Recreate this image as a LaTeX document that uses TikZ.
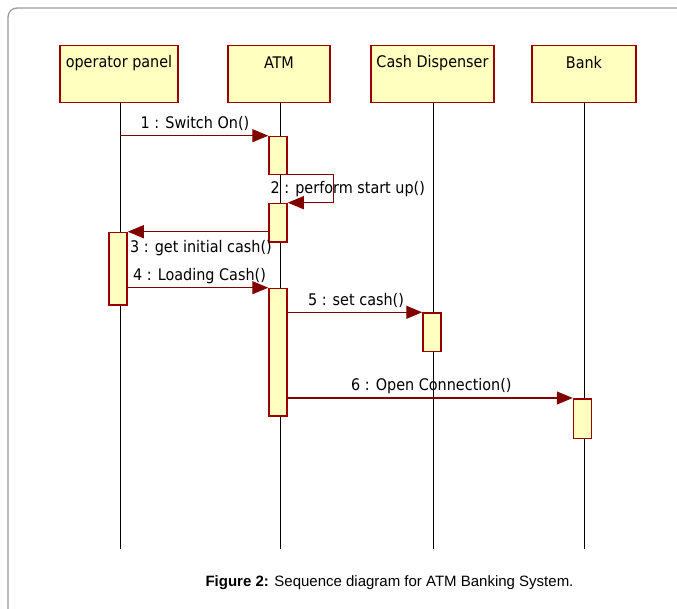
\documentclass[tikz,border=0pt]{standalone}
\usepackage{fontspec}
\setmainfont{Liberation Sans}
\newfontfamily\umlfont{DejaVu Sans Condensed}
\usetikzlibrary{arrows.meta}
\definecolor{umlfill}{HTML}{FFFFC0}
\definecolor{umledge}{HTML}{990000}
\definecolor{msgred}{HTML}{800000}
\definecolor{framegray}{HTML}{9A9A9A}
\tikzset{
  headbox/.style={draw=umledge, fill=umlfill, line width=1.5pt, minimum width=#1, minimum height=57pt, inner sep=0pt},
  actbox/.style={draw=umledge, fill=umlfill, line width=1.5pt, minimum width=18pt, minimum height=#1, inner sep=0pt, anchor=north},
  lifeline/.style={draw=black, line width=0.9pt},
  msg/.style={draw=msgred, line width=1.2pt, -{Triangle[length=16pt,width=13pt]}},
  umltext/.style={font=\umlfont\fontsize{16}{18}\selectfont, text=black, inner sep=0pt},
}
\begin{document}
\begin{tikzpicture}[x=1pt,y=-1pt]
\useasboundingbox (0,0) rectangle (677,609);
% outer frame, running past the right and bottom edges
\draw[framegray, line width=1.3pt, rounded corners=9pt] (690,8) -- (8,8) -- (8,620);

% participants
\node[headbox=118pt] (op)   at (119,74) {};
\node[headbox=102pt] (atm)  at (279,74) {};
\node[headbox=123pt] (cd)   at (432.5,74) {};
\node[headbox=104pt] (bank) at (584,74) {};
\node[umltext] at (119,63) {operator panel};
\node[umltext] at (279,63) {ATM};
\node[umltext] at (432.5,63) {Cash Dispenser};
\node[umltext] at (584,63) {Bank};

% lifelines
\coordinate (opend)   at (120,549);
\coordinate (atmend)  at (280,549);
\coordinate (cdend)   at (433,549);
\coordinate (bankend) at (584,549);
\draw[lifeline] (op.south -| opend) -- (opend);
\draw[lifeline] (atm.south -| atmend) -- (atmend);
\draw[lifeline] (cd.south -| cdend) -- (cdend);
\draw[lifeline] (bank.south -| bankend) -- (bankend);

% activations
\node[actbox=38pt]    (a1) at (278,135.7) {};
\node[actbox=38.5pt]  (a2) at (278,202.7) {};
\node[actbox=72.5pt]  (o1) at (118,231.7) {};
\node[actbox=127.3pt] (a3) at (278,287.7) {};
\node[actbox=38.7pt]  (c1) at (432,312.3) {};
\node[actbox=39.7pt]  (b1) at (582.5,398) {};

% messages
\draw[msg] (a1.north west -| opend) -- (a1.north west);
\node[umltext] at (195,123) {1 : Switch On()};

\draw[msg] ([yshift=1pt]a1.south east) -- ++(46,0) |- (a2.north east);
\node[umltext, anchor=west] at (270.5,189) {2 : perform start up()};

\draw[msg] ([yshift=-29pt]a2.north west) -- (a2.north west |- o1.north east) -- (o1.north east);
\node[umltext, anchor=west] at (130,248) {3 : get initial cash()};

\draw[msg] (a3.north west -| o1.east) -- (a3.north west);
\node[umltext, anchor=west] at (133,276.5) {4 : Loading Cash()};

\draw[msg] (c1.north west -| a3.east) -- (c1.north west);
\node[umltext] at (356,300) {5 : set cash()};

\draw[msg] (b1.north west -| a3.east) -- (b1.north west);
\node[umltext, anchor=west] at (351,386.5) {6 : Open Connection()};

% caption
\node[font=\fontsize{15}{18}\selectfont, inner sep=0pt] (cap) at (389.5,583)
  {\textbf{Figure 2:} Sequence diagram for ATM Banking System.};
\end{tikzpicture}
\end{document}
